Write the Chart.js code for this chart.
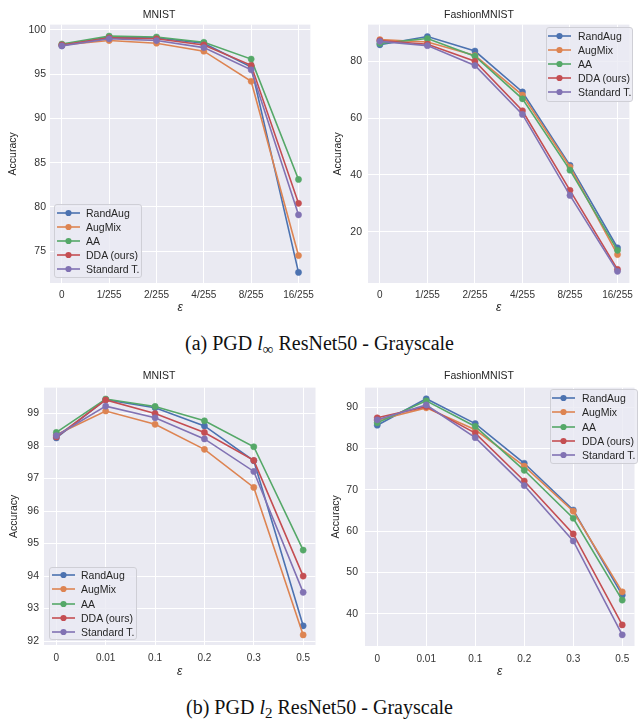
<!DOCTYPE html>
<html>
<head>
<meta charset="utf-8">
<script src="https://cdn.jsdelivr.net/npm/chart.js@4.4.1/dist/chart.umd.min.js"></script>
<style>
  body { margin: 0; background: #fff; width: 639px; height: 719px; position: relative; overflow: hidden; }
  canvas { position: absolute; }
  .legend { position: absolute; box-sizing: border-box; border: 1px solid #cfcfd6; border-radius: 3px;
            background: rgba(234,234,242,0.8); font: 10.5px "Liberation Sans", Arial, sans-serif; color: #262626; }
  .legend .row { height: 14px; display: flex; align-items: center; white-space: nowrap; }
  .legend svg { flex: none; }
  .caption { position: absolute; left: 0; width: 639px; text-align: center;
             font: 20px "Liberation Serif", "Times New Roman", serif; color: #111; line-height: 24px; }
  .caption sub { font-size: 15px; vertical-align: -4px; line-height: 0; }
</style>
</head>
<body>
<canvas id="c1" width="320" height="320" style="left:0;top:0"></canvas>
<canvas id="c2" width="319" height="320" style="left:320px;top:0"></canvas>
<canvas id="c3" width="320" height="330" style="left:0;top:360px"></canvas>
<canvas id="c4" width="319" height="330" style="left:320px;top:360px"></canvas>
<div class="caption" style="top:331px">(a) PGD <i>l</i><sub>∞</sub> ResNet50 - Grayscale</div>
<div class="caption" style="top:695px">(b) PGD <i>l</i><sub>2</sub> ResNet50 - Grayscale</div>
<script>
const methods = ['RandAug', 'AugMix', 'AA', 'DDA (ours)', 'Standard T.'];
const colors = ['#4C72B0', '#DD8452', '#55A868', '#C44E52', '#8172B3'];

const epsLinf = ['0', '1/255', '2/255', '4/255', '8/255', '16/255'];
const epsL2 = ['0', '0.01', '0.1', '0.2', '0.3', '0.5'];

// (a) PGD l_inf - MNIST
const mnistLinfRandAug = [98.2, 99.2, 99.1, 98.5, 95.8, 72.6];
const mnistLinfAugMix = [98.3, 98.8, 98.5, 97.6, 94.2, 74.5];
const mnistLinfAA = [98.4, 99.3, 99.2, 98.6, 96.7, 83.1];
const mnistLinfDDA = [98.3, 99.1, 99.0, 98.3, 96.0, 80.4];
const mnistLinfStd = [98.2, 99.0, 98.8, 98.0, 95.5, 79.1];

// (a) PGD l_inf - FashionMNIST
const fashionLinfRandAug = [85.8, 88.7, 83.6, 69.2, 43.4, 14.4];
const fashionLinfAugMix = [87.6, 86.8, 82.0, 68.1, 42.8, 12.0];
const fashionLinfAA = [86.3, 88.0, 81.8, 66.8, 41.7, 13.5];
const fashionLinfDDA = [87.3, 86.0, 80.0, 62.6, 34.6, 6.8];
const fashionLinfStd = [87.0, 85.5, 78.5, 61.3, 32.8, 6.1];

// (b) PGD l_2 - MNIST
const mnistL2RandAug = [98.25, 99.43, 99.18, 98.62, 97.55, 92.47];
const mnistL2AugMix = [98.35, 99.08, 98.67, 97.90, 96.73, 92.19];
const mnistL2AA = [98.42, 99.45, 99.22, 98.78, 97.98, 94.80];
const mnistL2DDA = [98.28, 99.42, 99.00, 98.42, 97.56, 94.00];
const mnistL2Std = [98.32, 99.23, 98.87, 98.22, 97.22, 93.50];

// (b) PGD l_2 - FashionMNIST
const fashionL2RandAug = [85.6, 92.0, 86.0, 76.4, 65.1, 44.5];
const fashionL2AugMix = [86.8, 89.8, 84.5, 75.7, 64.8, 45.3];
const fashionL2AA = [86.2, 91.5, 85.3, 74.7, 63.1, 43.3];
const fashionL2DDA = [87.4, 90.1, 83.7, 72.1, 59.3, 37.3];
const fashionL2Std = [86.9, 90.5, 82.6, 71.0, 57.6, 34.9];

const yTicksMnistLinf = [75, 80, 85, 90, 95, 100];
const yTicksFashionLinf = [20, 40, 60, 80];
const yTicksMnistL2 = [92, 93, 94, 95, 96, 97, 98, 99];
const yTicksFashionL2 = [40, 50, 60, 70, 80, 90];

const sansFont = '"Liberation Sans", Arial, sans-serif';

const plotBackground = {
    id: 'plotBackground',
    beforeDraw(chart) {
        const a = chart.chartArea;
        const ctx = chart.ctx;
        ctx.save();
        ctx.fillStyle = '#EAEAF2';
        ctx.fillRect(a.left, a.top, a.right - a.left, a.bottom - a.top);
        ctx.restore();
    }
};

function makeChart(id, title, labels, series, yRange, yTicks, g) {
    const datasets = series.map(function (values, k) {
        return {
            label: methods[k],
            data: values.map(function (v, i) { return { x: i, y: v }; }),
            borderColor: colors[k],
            backgroundColor: colors[k],
            pointBackgroundColor: colors[k],
            pointBorderColor: colors[k],
            pointRadius: 3.1,
            pointBorderWidth: 0.5,
            borderWidth: 1.6,
            order: series.length - k
        };
    });
    const ctx = document.getElementById(id).getContext('2d');
    return new Chart(ctx, {
        type: 'line',
        data: { datasets: datasets },
        options: {
            responsive: false,
            animation: false,
            layout: { padding: { left: 0, right: g.right, top: 0, bottom: 0 } },
            plugins: {
                legend: { display: false },
                tooltip: { enabled: false },
                title: {
                    display: true,
                    text: title,
                    color: '#262626',
                    font: { family: sansFont, size: 10.5, weight: 'normal' },
                    padding: { top: g.titleTop, bottom: g.titleBottom }
                }
            },
            scales: {
                x: {
                    type: 'linear',
                    min: -0.25,
                    max: 5.25,
                    afterFit: function (s) { s.height = g.xHeight; },
                    afterBuildTicks: function (s) {
                        s.ticks = labels.map(function (_, i) { return { value: i }; });
                    },
                    ticks: {
                        autoSkip: false,
                        maxRotation: 0,
                        padding: g.xPad,
                        color: '#333',
                        font: { family: sansFont, size: 10 },
                        callback: function (v) { return labels[v]; }
                    },
                    grid: { color: '#ffffff', lineWidth: 1, drawTicks: false },
                    border: { display: false },
                    title: {
                        display: true,
                        text: 'ε',
                        color: '#262626',
                        font: { family: sansFont, size: 12, style: 'italic' },
                        padding: { top: 0, bottom: g.epsPad }
                    }
                },
                y: {
                    min: yRange[0],
                    max: yRange[1],
                    afterFit: function (s) { s.width = g.yWidth; },
                    afterBuildTicks: function (s) {
                        s.ticks = yTicks.map(function (v) { return { value: v }; });
                    },
                    ticks: {
                        padding: g.yPad,
                        color: '#333',
                        font: { family: sansFont, size: 10.5 }
                    },
                    grid: { color: '#ffffff', lineWidth: 1, drawTicks: false },
                    border: { display: false },
                    title: {
                        display: true,
                        text: 'Accuracy',
                        color: '#262626',
                        font: { family: sansFont, size: 10.5 },
                        padding: { top: g.accPad, bottom: 0 }
                    }
                }
            }
        },
        plugins: [plotBackground]
    });
}

function makeLegend(left, top, width, height, padTop, lineLeft, textGap, rowH) {
    const box = document.createElement('div');
    box.className = 'legend';
    box.style.left = left + 'px';
    box.style.top = top + 'px';
    box.style.width = width + 'px';
    box.style.height = height + 'px';
    box.style.paddingTop = padTop + 'px';
    methods.forEach(function (name, k) {
        const row = document.createElement('div');
        row.className = 'row';
        row.style.height = rowH + 'px';
        row.innerHTML =
            '<svg width="24" height="10" style="margin-left:' + lineLeft + 'px;margin-right:' + textGap + 'px">' +
            '<line x1="0" y1="5" x2="23" y2="5" stroke="' + colors[k] + '" stroke-width="1.6"/>' +
            '<circle cx="11.5" cy="5" r="3.1" fill="' + colors[k] + '"/></svg>' +
            '<span>' + name + '</span>';
        box.appendChild(row);
    });
    document.body.appendChild(box);
}

makeChart('c1', 'MNIST', epsLinf,
    [mnistLinfRandAug, mnistLinfAugMix, mnistLinfAA, mnistLinfDDA, mnistLinfStd],
    [71.4, 100.6], yTicksMnistLinf,
    { right: 2, yWidth: 50, xHeight: 37, titleTop: 9, titleBottom: 3, xPad: 6, epsPad: 5, yPad: 4, accPad: 7 });

makeChart('c2', 'FashionMNIST', epsLinf,
    [fashionLinfRandAug, fashionLinfAugMix, fashionLinfAA, fashionLinfDDA, fashionLinfStd],
    [2.0, 92.9], yTicksFashionLinf,
    { right: 1, yWidth: 48, xHeight: 37, titleTop: 9, titleBottom: 3, xPad: 6, epsPad: 5, yPad: 6, accPad: 12 });

makeChart('c3', 'MNIST', epsL2,
    [mnistL2RandAug, mnistL2AugMix, mnistL2AA, mnistL2DDA, mnistL2Std],
    [91.88, 99.8], yTicksMnistL2,
    { right: 2, yWidth: 44, xHeight: 45, titleTop: 10, titleBottom: 5, xPad: 7, epsPad: 11, yPad: 5, accPad: 8 });

makeChart('c4', 'FashionMNIST', epsL2,
    [fashionL2RandAug, fashionL2AugMix, fashionL2AA, fashionL2DDA, fashionL2Std],
    [32.2, 94.7], yTicksFashionL2,
    { right: 1, yWidth: 45, xHeight: 44, titleTop: 10, titleBottom: 5, xPad: 7, epsPad: 11, yPad: 7, accPad: 10 });

makeLegend(54, 204, 88, 74, 1, 2, 5, 14);
makeLegend(546, 27, 87, 75, 1, 1, 6, 14);
makeLegend(49, 567, 88, 73, 0, 2, 5, 14.25);
makeLegend(550, 389, 88, 75, 1, 1, 6, 14.25);
</script>
</body>
</html>
